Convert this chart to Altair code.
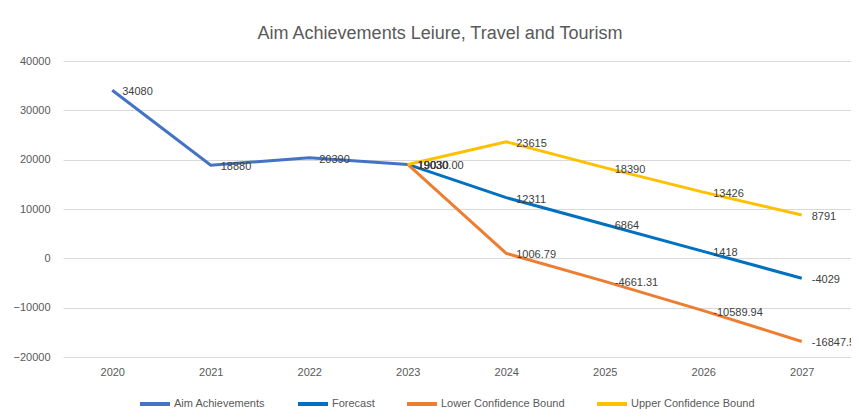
import altair as alt
import pandas as pd

years = ["2020", "2021", "2022", "2023", "2024", "2025", "2026", "2027"]
series_names = ["Aim Achievements", "Forecast", "Lower Confidence Bound", "Upper Confidence Bound"]
colors = ["#4472C4", "#0070C0", "#ED7D31", "#FFC000"]

aim_years = ["2020", "2021", "2022", "2023"]
aim_values = [34080, 18880, 20390, 19030]
aim_labels = ["34080", "18880", "20390", "19030"]

fc_years = ["2023", "2024", "2025", "2026", "2027"]
forecast_values = [19030, 12311, 6864, 1418, -4029]
forecast_labels = ["19030", "12311", "6864", "1418", "-4029"]
lower_values = [19030, 1006.79, -4661.31, -10589.94, -16847.5]
lower_labels = ["19030.00", "1006.79", "-4661.31", "-10589.94", "-16847.5"]
upper_values = [19030, 23615, 18390, 13426, 8791]
upper_labels = ["19030", "23615", "18390", "13426", "8791"]

rows = []
for y, v, l in zip(aim_years, aim_values, aim_labels):
    rows.append({"year": y, "value": v, "label": l, "series": series_names[0]})
for vals, labs, name in [(forecast_values, forecast_labels, series_names[1]),
                         (lower_values, lower_labels, series_names[2]),
                         (upper_values, upper_labels, series_names[3])]:
    for y, v, l in zip(fc_years, vals, labs):
        rows.append({"year": y, "value": v, "label": l, "series": name})
df = pd.DataFrame(rows)

FONT = "Liberation Sans"
GREY = "#595959"

x = alt.X("year:O", sort=years,
          scale=alt.Scale(type="point", padding=0.5, domain=years),
          axis=alt.Axis(title=None, labelAngle=0, domain=False, ticks=False,
                        labelPadding=9, labelFontSize=11, labelColor=GREY, labelFont=FONT))
y = alt.Y("value:Q",
          scale=alt.Scale(domain=[-20000, 40000], nice=False),
          axis=alt.Axis(title=None, values=[-20000, -10000, 0, 10000, 20000, 30000, 40000],
                        format="d", domain=False, ticks=False, labelPadding=13,
                        labelFontSize=11, labelColor=GREY, labelFont=FONT,
                        grid=True, gridColor="#d9d9d9", gridWidth=1))
color = alt.Color("series:N",
                  scale=alt.Scale(domain=series_names, range=colors),
                  legend=alt.Legend(title=None, orient="none", direction="horizontal",
                                    legendX=75, legendY=326, columns=4,
                                    symbolType="stroke", symbolSize=900, symbolStrokeWidth=4,
                                    labelFontSize=11, labelColor=GREY, labelFont=FONT,
                                    columnPadding=24, labelOffset=2, padding=0))

lines = alt.Chart(df).mark_line(strokeWidth=3).encode(
    x=x, y=y, color=color, detail="series:N",
    order=alt.Order("year:O"))

labels = alt.Chart(df).mark_text(align="left", baseline="middle", dx=10, dy=2,
                                 fontSize=11, font=FONT, color="#404040").encode(
    x=x, y=y, text="label:N")

chart = alt.layer(lines, labels).properties(
    width=788, height=296,
    autosize=alt.AutoSizeParams(type="none"),
    padding={"left": 55, "top": 53, "right": 0, "bottom": 58},
    title=alt.TitleParams("Aim Achievements Leiure, Travel and Tourism",
                          fontSize=18, font=FONT, fontWeight="normal", color=GREY,
                          anchor="middle", dx=-17, offset=12),
).configure_view(stroke=None)

chart.save("out.html", embed_options={"renderer": "svg", "actions": False})
